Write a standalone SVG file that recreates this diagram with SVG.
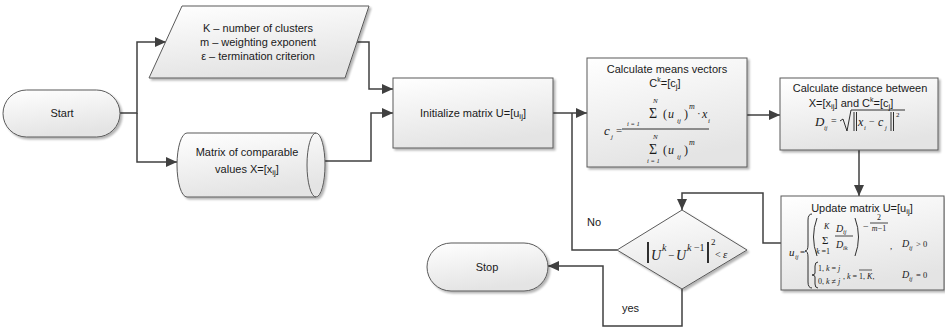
<svg xmlns="http://www.w3.org/2000/svg" width="945" height="329" viewBox="0 0 945 329">
<defs>
<linearGradient id="g" x1="0" y1="0" x2="0.3" y2="1">
<stop offset="0" stop-color="#ffffff"/>
<stop offset="1" stop-color="#e4e4e4"/>
</linearGradient>
<filter id="sh" x="-10%" y="-10%" width="130%" height="130%">
<feGaussianBlur in="SourceAlpha" stdDeviation="1.2"/>
<feOffset dx="2" dy="2" result="b"/>
<feComponentTransfer><feFuncA type="linear" slope="0.3"/></feComponentTransfer>
<feMerge><feMergeNode/><feMergeNode in="SourceGraphic"/></feMerge>
</filter>
<marker id="arr" markerUnits="userSpaceOnUse" markerWidth="11" markerHeight="10" refX="11" refY="5" orient="auto">
<path d="M0,0 L11,5 L0,10 z" fill="#404040"/>
</marker>
<style>
.n{fill:url(#g);stroke:#5a5a5a;stroke-width:1;filter:url(#sh)}
.c{fill:none;stroke:#404040;stroke-width:1.5}
.a{marker-end:url(#arr)}
.t{font-family:"Liberation Sans",Arial,sans-serif;font-size:11px;fill:#1a1a1a;text-anchor:middle}
.l{font-family:"Liberation Sans",Arial,sans-serif;font-size:11px;fill:#1a1a1a}
.m{font-family:"Liberation Serif","Times New Roman",serif;font-style:italic;fill:#1a1a1a}
.r{font-family:"Liberation Serif","Times New Roman",serif;fill:#1a1a1a}
.p{fill:none;stroke:#1a1a1a;stroke-width:0.9}
</style>
</defs>

<g id="connectors">
<path class="c a" d="M120,113 H137 V42 H166"/>
<path class="c a" d="M137,113 V162 H177"/>
<path class="c a" d="M357,42 H369 V89 H393"/>
<path class="c a" d="M325,161 H371 V113 H393"/>
<path class="c a" d="M553,113 H587"/>
<path class="c" d="M617,250 H572 V113"/>
<path class="c a" d="M747,115 H780"/>
<path class="c a" d="M859,150 V196"/>
<path class="c a" d="M781,243 H763 V193 H682 V210"/>
<path class="c a" d="M682,289 V326 H603 V266 H548"/>
<text class="l" x="587" y="226">No</text>
<text class="l" x="622" y="312">yes</text>
</g>

<g id="start">
<rect class="n" x="3" y="90" width="117" height="47" rx="23.5"/>
<text class="t" x="62" y="117">Start</text>
</g>

<g id="params">
<path class="n" d="M182,6 H369 L345,78 H149 Z"/>
<text class="t" x="258" y="32">K – number of clusters</text>
<text class="t" x="258" y="46">m – weighting exponent</text>
<text class="t" x="258" y="60">ε – termination criterion</text>
</g>

<g id="matrix">
<path class="n" d="M187,133 H316 A9,32 0 0 1 316,197 H187 A10,32 0 0 1 187,133 Z"/>
<path fill="none" stroke="#5a5a5a" stroke-width="1" d="M316,133 A9,32 0 0 0 316,197"/>
<text class="t" x="247" y="156">Matrix of comparable</text>
<text class="t" x="247" y="173">values X=[x<tspan font-size="8" dy="2">ij</tspan><tspan dy="-2">]</tspan></text>
</g>

<g id="init">
<rect class="n" x="393" y="78" width="160" height="70"/>
<text class="t" x="473" y="117">Initialize matrix U=[u<tspan font-size="8" dy="2">ij</tspan><tspan dy="-2">]</tspan></text>
</g>

<g id="means">
<rect class="n" x="587" y="58" width="160" height="109"/>
<text class="t" x="667" y="73">Calculate means vectors</text>
<text class="t" x="665" y="87">C<tspan font-size="7" dy="-5">k</tspan><tspan dy="5">=[c</tspan><tspan font-size="8" dy="2">j</tspan><tspan dy="-2">]</tspan></text>
<text class="m" x="604" y="135" font-size="13">c</text>
<text class="m" x="611" y="139" font-size="7">j</text>
<text class="r" x="616" y="134" font-size="11">=</text>
<line x1="622" y1="129" x2="709" y2="129" stroke="#1a1a1a" stroke-width="0.9"/>
<text class="m" x="653" y="103" font-size="7">N</text>
<text class="r" x="649" y="118" font-size="14">Σ</text>
<text class="m" x="627" y="126" font-size="6.5">i = 1</text>
<text class="r" x="663" y="118" font-size="12">(</text>
<text class="m" x="668" y="118" font-size="12">u</text>
<text class="m" x="677" y="123" font-size="7">ij</text>
<text class="r" x="684" y="118" font-size="12">)</text>
<text class="m" x="689" y="109" font-size="8">m</text>
<text class="r" x="697" y="117" font-size="11">·</text>
<text class="m" x="702" y="118" font-size="12">x</text>
<text class="m" x="708" y="123" font-size="7">i</text>
<text class="m" x="653" y="139" font-size="7">N</text>
<text class="r" x="649" y="154" font-size="14">Σ</text>
<text class="m" x="647" y="163" font-size="6.5">i = 1</text>
<text class="r" x="663" y="154" font-size="12">(</text>
<text class="m" x="668" y="154" font-size="12">u</text>
<text class="m" x="677" y="159" font-size="7">ij</text>
<text class="r" x="684" y="154" font-size="12">)</text>
<text class="m" x="689" y="145" font-size="8">m</text>
</g>

<g id="distance">
<rect class="n" x="780" y="78" width="158" height="72"/>
<text class="t" x="860" y="92">Calculate distance between</text>
<text class="t" x="851" y="107">X=[x<tspan font-size="8" dy="2">ij</tspan><tspan dy="-2">] and  C</tspan><tspan font-size="7" dy="-5">k</tspan><tspan dy="5">=[c</tspan><tspan font-size="8" dy="2">j</tspan><tspan dy="-2">]</tspan></text>
<text class="m" x="815" y="126" font-size="13">D</text>
<text class="m" x="824" y="130" font-size="6.5">ij</text>
<text class="r" x="831" y="124" font-size="10">=</text>
<path class="p" d="M840,121 L843,119 L847,131 L851,110 H905"/>
<path class="p" d="M854,112 V131 M856.5,112 V131 M891,112 V131 M893.5,112 V131"/>
<text class="m" x="858" y="126" font-size="12">x</text>
<text class="m" x="864" y="130" font-size="6.5">i</text>
<text class="r" x="869" y="125" font-size="10">−</text>
<text class="m" x="878" y="126" font-size="12">c</text>
<text class="m" x="885" y="130" font-size="6.5">j</text>
<text class="r" x="896" y="117" font-size="7">2</text>
</g>

<g id="update">
<rect class="n" x="781" y="196" width="163" height="94"/>
<text class="t" x="862" y="212">Update matrix U=[u<tspan font-size="8" dy="2">ij</tspan><tspan dy="-2">]</tspan></text>
<text class="m" x="789" y="256" font-size="11">u</text>
<text class="m" x="795" y="259" font-size="6.5">ij</text>
<text class="r" x="800" y="255" font-size="9">=</text>
<path class="p" d="M812,214 Q808,214 808,220 V245 Q808,251 805,251 Q808,251 808,257 V282 Q808,288 812,288"/>
<path class="p" d="M817,218 Q810,237 817,256"/>
<text class="m" x="824" y="229" font-size="8">K</text>
<text class="r" x="822" y="244" font-size="11">Σ</text>
<text class="m" x="816" y="254" font-size="8">k <tspan font-style="normal">=1</tspan></text>
<text class="m" x="836" y="232" font-size="10">D</text>
<text class="m" x="843" y="234" font-size="6.5">ij</text>
<line x1="835" y1="236" x2="853" y2="236" stroke="#1a1a1a" stroke-width="0.8"/>
<text class="m" x="836" y="248" font-size="10">D</text>
<text class="m" x="843" y="250" font-size="6.5">ik</text>
<path class="p" d="M855,218 Q862,237 855,256"/>
<text class="r" x="863" y="230" font-size="10">−</text>
<line x1="870" y1="223" x2="888" y2="223" stroke="#1a1a1a" stroke-width="0.8"/>
<text class="r" x="879" y="220" font-size="8" text-anchor="middle">2</text>
<text class="m" x="879" y="231" font-size="8" text-anchor="middle">m<tspan font-style="normal">−1</tspan></text>
<text class="r" x="890" y="249" font-size="9">,</text>
<text class="m" x="902" y="247" font-size="10">D</text>
<text class="m" x="909" y="250" font-size="6.5">ij</text>
<text class="r" x="916" y="247" font-size="8.5">&gt; 0</text>
<path class="p" d="M818,262 Q815,262 815,266 V273 Q815,275 812,275 Q815,275 815,277 V284 Q815,288 818,288"/>
<text class="r" x="818" y="271" font-size="8">1, <tspan font-style="italic">k</tspan> = <tspan font-style="italic">j</tspan></text>
<text class="r" x="818" y="284" font-size="8">0, <tspan font-style="italic">k</tspan> ≠ <tspan font-style="italic">j</tspan></text>
<text class="r" x="843" y="279" font-size="8">, <tspan font-style="italic">k</tspan> = 1, <tspan font-style="italic">K</tspan>,</text>
<line x1="859" y1="270" x2="872" y2="270" stroke="#1a1a1a" stroke-width="0.7"/>
<text class="m" x="902" y="278" font-size="10">D</text>
<text class="m" x="909" y="281" font-size="6.5">ij</text>
<text class="r" x="916" y="278" font-size="8.5">= 0</text>
</g>

<g id="decision">
<path class="n" d="M682,210 L747,250 L682,289 L617,250 Z"/>
<line x1="648" y1="242" x2="648" y2="263" stroke="#1a1a1a" stroke-width="1.8"/>
<text class="m" x="651" y="260" font-size="14">U</text>
<text class="m" x="662" y="251" font-size="10">k</text>
<text class="r" x="668" y="259" font-size="11">−</text>
<text class="m" x="676" y="260" font-size="14">U</text>
<text class="m" x="687" y="251" font-size="10">k <tspan font-style="normal">−1</tspan></text>
<line x1="708" y1="242" x2="708" y2="263" stroke="#1a1a1a" stroke-width="1.8"/>
<text class="r" x="711" y="245" font-size="9">2</text>
<text class="r" x="715" y="258" font-size="10">&lt;</text>
<text class="m" x="723" y="258" font-size="11">ε</text>
</g>

<g id="stop">
<rect class="n" x="427" y="243" width="121" height="48" rx="24"/>
<text class="t" x="487" y="271">Stop</text>
</g>
</svg>
